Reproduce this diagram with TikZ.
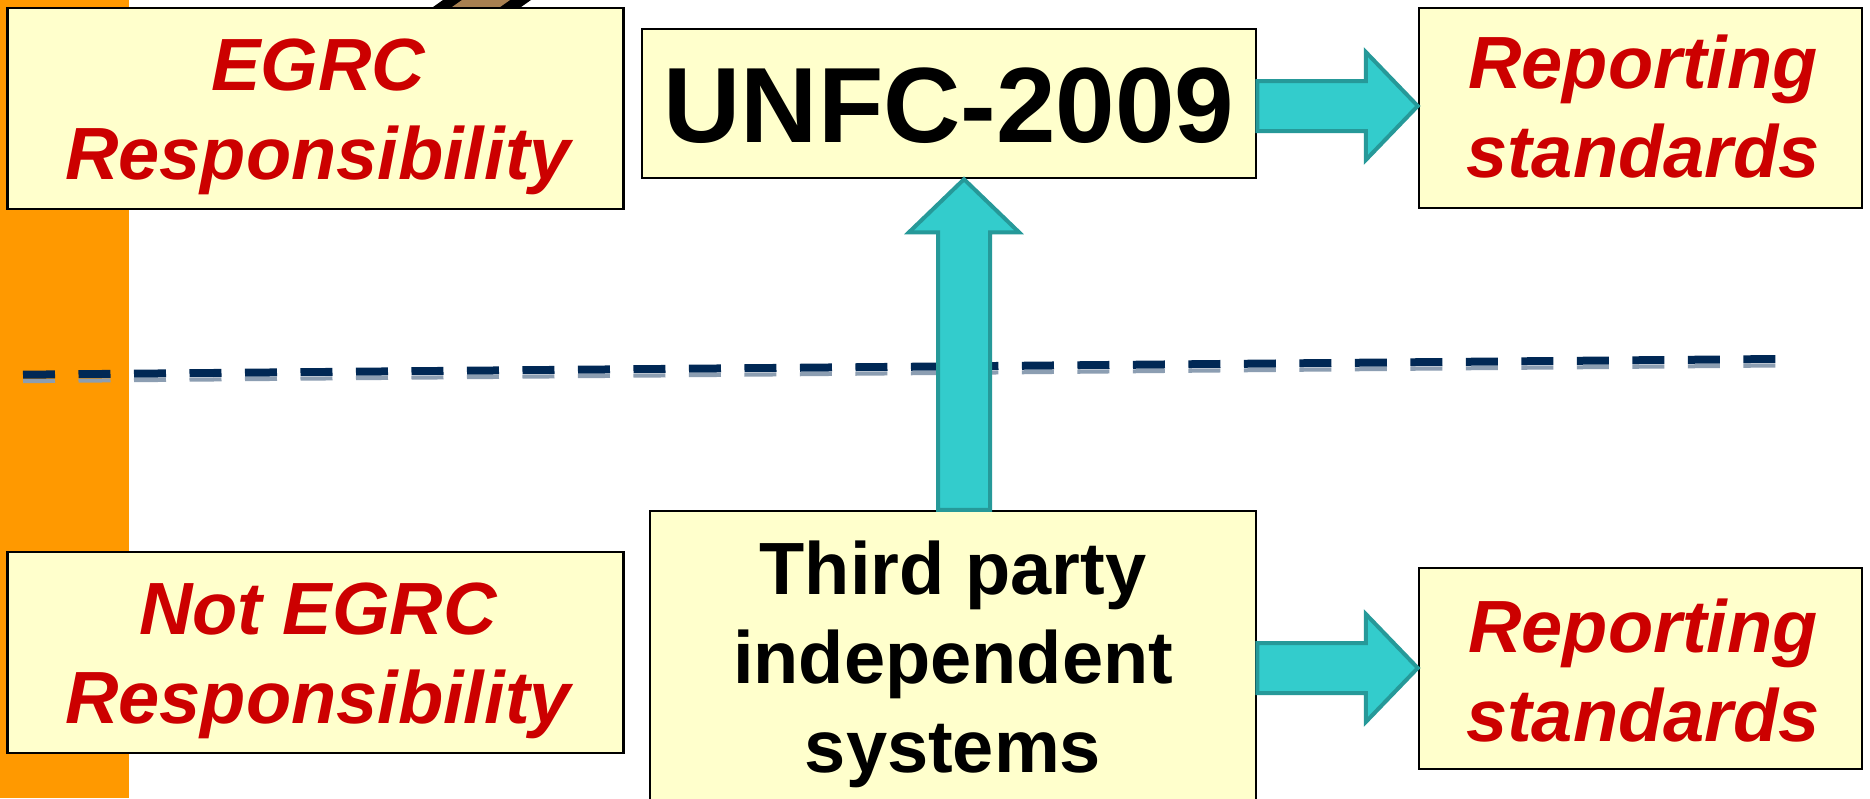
\documentclass[tikz,border=0pt]{standalone}
\usepackage{fontspec}
\setmainfont{Liberation Sans}
\definecolor{boxfill}{HTML}{FFFFCC}
\definecolor{redtxt}{HTML}{CC0000}
\definecolor{tealfill}{HTML}{33CCCC}
\definecolor{tealedge}{HTML}{269999}
\definecolor{orangebar}{HTML}{FF9900}
\definecolor{navyline}{HTML}{002855}
\definecolor{brownish}{HTML}{A88050}
\begin{document}
\begin{tikzpicture}[x=1pt,y=-1pt,
  box/.style={draw=black, line width=2.5pt, fill=boxfill, inner sep=0pt},
  redlabel/.style={text=redtxt, font=\fontsize{74}{89}\selectfont\bfseries\itshape, align=center, inner sep=0pt},
  blacklabel/.style={text=black, font=\fontsize{74}{89}\selectfont\bfseries, align=center, inner sep=0pt},
  biglabel/.style={text=black, font=\fontsize{107}{120}\selectfont\bfseries, inner sep=0pt},
  bigarrow/.style={fill=tealfill, draw=tealedge, line width=4pt, line join=miter},
  divider/.style={draw=navyline, line width=8pt, dash pattern=on 32pt off 23.5pt},
  dividershadow/.style={draw=navyline!45, line width=4pt, dash pattern=on 32pt off 23.5pt},
]
\useasboundingbox (0,0) rectangle (1870,798);
\clip (0,0) rectangle (1870,798);
\fill[white] (0,0) rectangle (1870,798);
% orange side bar
\fill[orangebar] (0,0) rectangle (129,798);
% partly hidden striped object at the top
\fill[black] (443,0) -- (531,0) -- (514,12) -- (426,12) -- cycle;
\fill[brownish] (462,0) -- (510,0) -- (493,12) -- (445,12) -- cycle;
% dashed divider
\coordinate (dl) at (23,381.2);
\coordinate (dr) at (1789,365.4);
\draw[dividershadow] (dl) -- (dr);
\coordinate (dl2) at (23,374.7);
\coordinate (dr2) at (1789,358.9);
\draw[divider] (dl2) -- (dr2);
% boxes
\node[box, minimum width=616pt, minimum height=201pt] (egrc) at (315.5,108.5) {};
\node[box, minimum width=616pt, minimum height=201pt] (notegrc) at (315.5,652.5) {};
\node[box, minimum width=614pt, minimum height=149pt] (unfc) at (949,103.5) {};
\node[box, minimum width=443pt, minimum height=200pt] (rep1) at (1640.5,108) {};
\node[box, minimum width=443pt, minimum height=201pt] (rep2) at (1640.5,668.5) {};
\node[box, minimum width=606pt, minimum height=319pt] (tp) at (953,670.5) {};
% texts
\node[redlabel] (egrct) at (318,117) {EGRC\\Responsibility};
\node[redlabel] (notegrct) at (318,661) {Not EGRC\\Responsibility};
\node[biglabel] (unfct) at (949,106) {UNFC-2009};
\node[redlabel] (rep1t) at (1643,107) {Reporting\\standards};
\node[redlabel] (rep2t) at (1643,671) {Reporting\\standards};
\node[blacklabel] (tpt) at (953,664) {Third party\\independent\\systems};
% block arrows
\coordinate (a1s) at (unfc.east |- 0,106);
\coordinate (a1t) at (rep1.west |- 0,106);
\draw[bigarrow] ([yshift=-25pt]a1s) -- ([xshift=-52pt,yshift=-25pt]a1t) -- ([xshift=-52pt,yshift=-54pt]a1t)
  -- (a1t) -- ([xshift=-52pt,yshift=54pt]a1t) -- ([xshift=-52pt,yshift=25pt]a1t) -- ([yshift=25pt]a1s) -- cycle;
\coordinate (a2s) at (tp.east |- 0,668);
\coordinate (a2t) at (rep2.west |- 0,668);
\draw[bigarrow] ([yshift=-25pt]a2s) -- ([xshift=-52pt,yshift=-25pt]a2t) -- ([xshift=-52pt,yshift=-54pt]a2t)
  -- (a2t) -- ([xshift=-52pt,yshift=54pt]a2t) -- ([xshift=-52pt,yshift=25pt]a2t) -- ([yshift=25pt]a2s) -- cycle;
\coordinate (a3s) at (tp.north -| 964,0);
\coordinate (a3t) at (unfc.south -| 964,0);
\draw[bigarrow] ([xshift=-26pt]a3s) -- ([xshift=-26pt,yshift=-53pt]a3t) -- ([xshift=-55pt,yshift=-53pt]a3t)
  -- (a3t) -- ([xshift=55pt,yshift=-53pt]a3t) -- ([xshift=26pt,yshift=-53pt]a3t) -- ([xshift=26pt]a3s) -- cycle;
\end{tikzpicture}
\end{document}
